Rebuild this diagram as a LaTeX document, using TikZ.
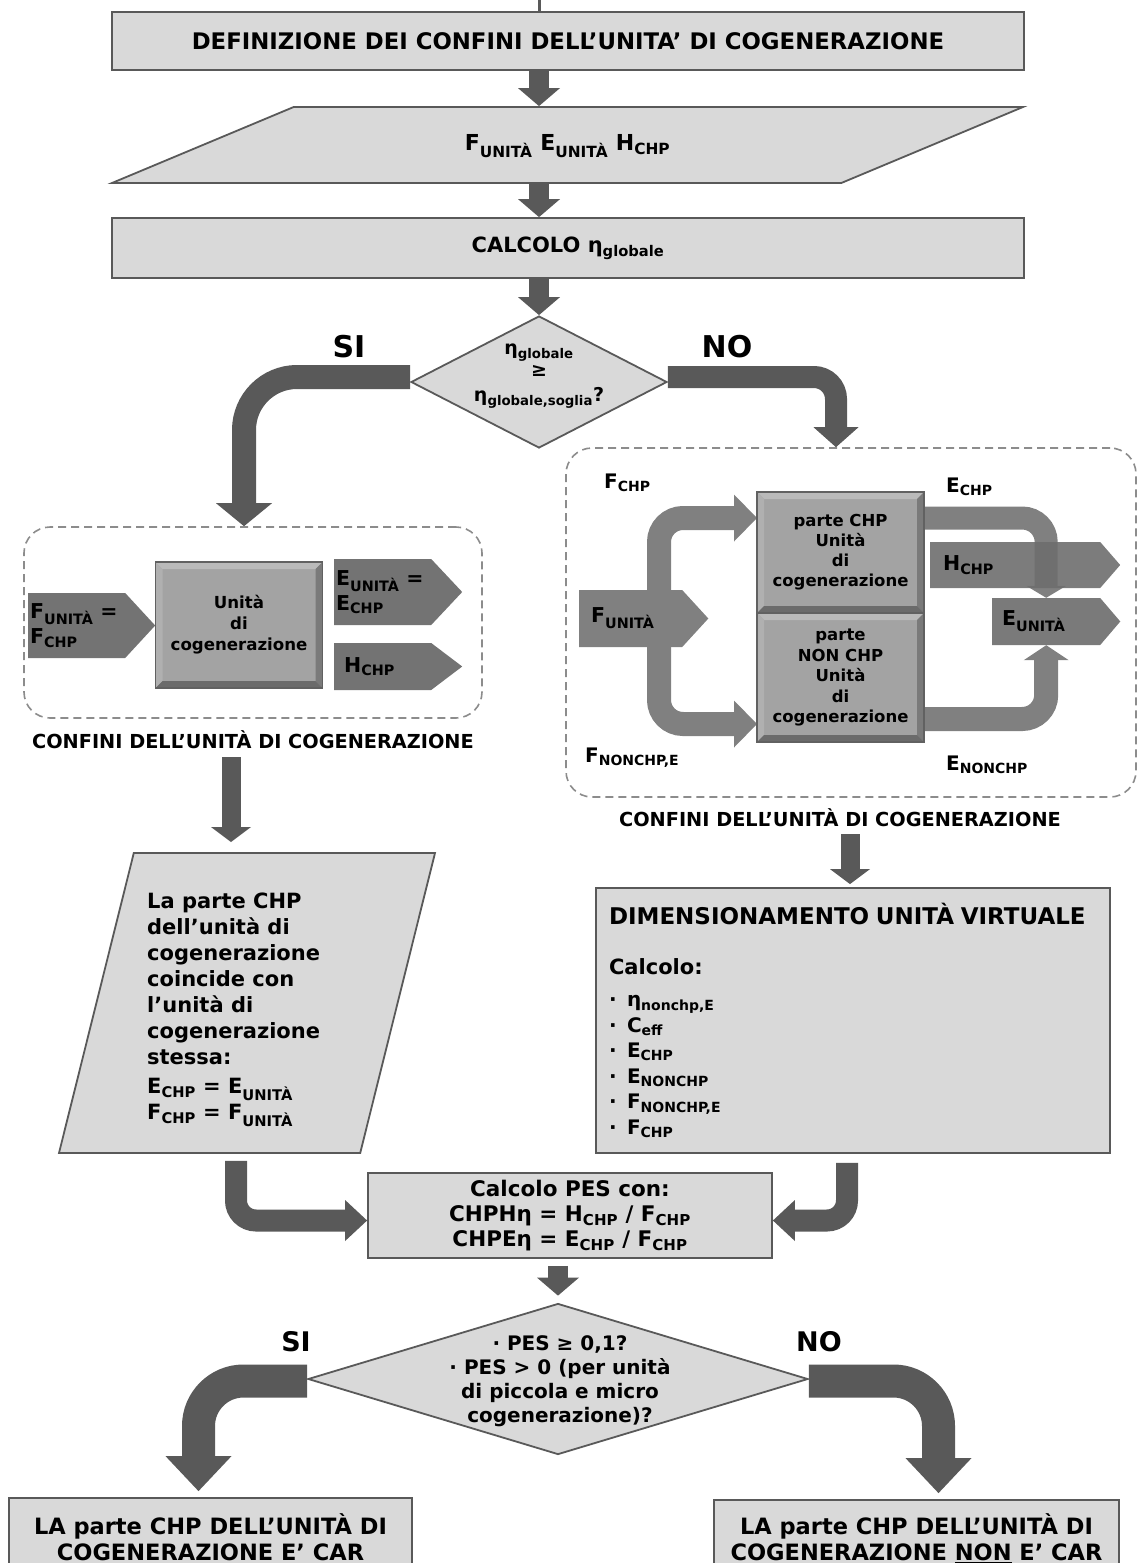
\documentclass[tikz,border=0pt]{standalone}
\usepackage{fontspec}
\setmainfont{DejaVu Sans}
\usepackage{tikz}
\usetikzlibrary{positioning,arrows.meta,shapes.geometric,shapes.symbols,backgrounds}
\newcommand{\fsz}[2]{\fontsize{#1}{#2}\selectfont\bfseries}
\newcommand{\subt}[1]{\textsubscript{#1}}

\begin{document}
\begin{tikzpicture}[x=1pt, y=-1pt,
  box/.style={draw=black!65, line width=1.8pt, fill=black!15, align=center},
  dia/.style={diamond, draw=black!65, line width=1.8pt, fill=black!15, inner sep=0pt},
  conf/.style={draw=black!45, line width=1.6pt, dash pattern=on 8pt off 5pt, rounded corners=26pt},
  bevel/.style={fill=black!36, draw=black!62, line width=1.2pt, outer sep=0pt, align=center,
    path picture={
      \path (path picture bounding box.north west) coordinate (pa) (path picture bounding box.north east) coordinate (pb)
            (path picture bounding box.south east) coordinate (pc) (path picture bounding box.south west) coordinate (pd);
      \fill[black!27] (pa) -- (pb) -- ([shift={(-7pt,-7pt)}]pb) -- ([shift={(7pt,-7pt)}]pa) -- cycle;
      \fill[black!31] (pa) -- (pd) -- ([shift={(7pt,7pt)}]pd) -- ([shift={(7pt,-7pt)}]pa) -- cycle;
      \fill[black!52] (pb) -- (pc) -- ([shift={(-7pt,7pt)}]pc) -- ([shift={(-7pt,-7pt)}]pb) -- cycle;
      \fill[black!58] (pd) -- (pc) -- ([shift={(-7pt,7pt)}]pc) -- ([shift={(7pt,7pt)}]pd) -- cycle;}},
  sig/.style={signal, signal to=east, fill=black!55, align=left, anchor=west, inner ysep=0pt, font=\fsz{20.5}{25}},
  lbl/.style={anchor=base west, inner sep=0pt, font=\fsz{20}{24}},
  yn/.style={font=\fsz{30}{32}},
  flow/.style={draw=black!65, line width=20pt, -{Triangle[width=42pt 0 1, length=18pt 0 1, line width=0pt]}},
  flowb/.style={draw=black!65, line width=19pt, -{Triangle[width=40pt 0 1, length=15pt 0 1, line width=0pt]}},
  turn/.style={draw=black!65, line width=22pt, rounded corners=20pt, -{Triangle[width=41pt 0 1, length=22pt 0 1, line width=0pt]}},
  bigl/.style={draw=black!65, line width=24pt, rounded corners=53pt, -{Triangle[width=56pt 0 1, length=23pt 0 1, line width=0pt]}},
  bigr/.style={draw=black!65, line width=22pt, rounded corners=22pt, -{Triangle[width=45pt 0 1, length=20pt 0 1, line width=0pt]}},
  huge/.style={draw=black!65, line width=33pt, rounded corners=45pt, -{Triangle[width=66pt 0 1, length=35pt 0 1, line width=0pt]}},
  band/.style={draw=black!50, line width=24pt, rounded corners=24pt}]
\useasboundingbox (0,0) rectangle (1137,1563);
\node[box, minimum width=912pt, minimum height=58pt, font=\fsz{22.8}{26}] (def) at (568,41) {DEFINIZIONE DEI CONFINI DELL’UNITA’ DI COGENERAZIONE};
\node[box, trapezium, trapezium left angle=22.7, trapezium right angle=157.3, trapezium stretches body,
      text height=15pt, text depth=5pt, inner ysep=28pt, minimum width=911pt, font=\fsz{22}{26}] (inp) at (567.5,145) {F\subt{UNITÀ} E\subt{UNITÀ} H\subt{CHP}};
\node[box, minimum width=912pt, minimum height=60pt, font=\fsz{21}{25}] (calc) at (568,248) {CALCOLO η\subt{globale}};
\node[dia, minimum width=256pt, minimum height=132pt] (dec1) at (539,382) {};
\node[align=center, font=\fsz{19}{22}] (q1) at (539,376) {η\subt{globale}\\≥\\[3pt]η\subt{globale,soglia}?};
\node[yn] (si1) at (349,347) {SI};
\node[yn] (no1) at (727,347) {NO};
\coordinate (in) at (539,0);

\node[conf, minimum width=458pt, minimum height=191pt] (bl) at (253,622.5) {};
\node[font=\fsz{19.3}{22}, below=8pt of bl] (cfl) {CONFINI DELL’UNITÀ DI COGENERAZIONE};
\node[sig, text width=93pt, minimum height=65pt, signal pointer angle=94.6, inner xsep=2pt] (fl) at (28,625.5) {F\subt{UNITÀ} =\\F\subt{CHP}};
\node[bevel, minimum width=167pt, minimum height=126pt, font=\fsz{16.6}{21}] (uc) at (239,625) {Unità\\di\\cogenerazione};
\node[sig, text width=93pt, minimum height=66pt, signal pointer angle=93.6, inner xsep=2pt] (el) at (334,592) {E\subt{UNITÀ} =\\E\subt{CHP}};
\node[sig, text width=77pt, minimum height=47pt, signal pointer angle=74.3, inner xsep=10pt] (hl) at (334,666.5) {H\subt{CHP}};

\node[conf, minimum width=570pt, minimum height=349pt] (br) at (851,622.5) {};
\node[font=\fsz{19.3}{22}, below=7pt of br, xshift=-11pt] (cfr) {CONFINI DELL’UNITÀ DI COGENERAZIONE};
\node[bevel, minimum width=167pt, minimum height=121pt, font=\fsz{16.5}{20}] (chp) at (840.5,552.5) {parte CHP\\Unità\\di\\cogenerazione};
\node[bevel, minimum width=167pt, minimum height=129pt, font=\fsz{16.5}{20.5}, below=0pt of chp] (nch) {parte\\NON CHP\\Unità\\di\\cogenerazione};
\node[sig, fill=black!50, text width=79pt, minimum height=57pt, signal pointer angle=95, inner xsep=12pt] (fu) at (579,618.5) {F\subt{UNITÀ}};
\node[sig, fill=black!57, fill opacity=0.9, text opacity=1, text width=144pt, minimum height=46pt, signal pointer angle=98, inner xsep=13pt] (hc) at (930,565) {H\subt{CHP}};
\node[sig, fill=black!52, text width=88pt, minimum height=47pt, signal pointer angle=99, inner xsep=10pt] (eu) at (992,621.5) {E\subt{UNITÀ}};
\node[lbl] (fchp) at (604,488) {F\subt{CHP}};
\node[lbl] (echp) at (946,492) {E\subt{CHP}};
\node[lbl] (fnon) at (585,762) {F\subt{NONCHP,E}};
\node[lbl] (enon) at (946,770) {E\subt{NONCHP}};
\coordinate (fk) at (659,618.5);

\node[box, trapezium, trapezium left angle=76, trapezium right angle=104, trapezium stretches body,
      inner sep=0pt, text height=300pt, text depth=0pt, minimum width=376pt] (lpar) at (247,1003) {};
\node[anchor=north west, inner sep=0pt, align=left, font=\fsz{21}{26}] (lpt) at (147,893)
      {La parte CHP\\dell’unità di\\cogenerazione\\coincide con\\l’unità di\\cogenerazione\\stessa:\\[3pt]E\subt{CHP} = E\subt{UNITÀ}\\F\subt{CHP} = F\subt{UNITÀ}};
\node[box, minimum width=514pt, minimum height=265pt, text width=488pt, align=left, font=\fsz{20}{25.6}] (dim) at (853,1020.5)
      {{\fsz{23}{26}DIMENSIONAMENTO UNITÀ VIRTUALE}\\[25pt]{\fsz{21}{26}Calcolo:}\\[6pt]
       \makebox[18pt][l]{·}η\subt{nonchp,E}\\\makebox[18pt][l]{·}C\subt{eff}\\\makebox[18pt][l]{·}E\subt{CHP}\\
       \makebox[18pt][l]{·}E\subt{NONCHP}\\\makebox[18pt][l]{·}F\subt{NONCHP,E}\\\makebox[18pt][l]{·}F\subt{CHP}};
\node[box, minimum width=404pt, minimum height=85pt, font=\fsz{21.5}{25}] (pes) at (570,1215.5)
      {Calcolo PES con:\\CHPHη = H\subt{CHP} / F\subt{CHP}\\CHPEη = E\subt{CHP} / F\subt{CHP}};
\node[dia, minimum width=500pt, minimum height=151pt] (dec2) at (558,1379) {};
\node[align=center, font=\fsz{20}{24}] (q2) at (560,1381) {· PES ≥ 0,1?\\· PES > 0 (per unità\\di piccola e micro\\cogenerazione)?};
\node[yn, font=\fsz{27}{30}] (si2) at (296,1342) {SI};
\node[yn, font=\fsz{27}{30}] (no2) at (819,1342) {NO};
\node[box, minimum width=403pt, minimum height=78pt, font=\fsz{22.5}{25.5}] (car) at (210.5,1537) {LA parte CHP DELL’UNITÀ DI\\COGENERAZIONE E’ CAR};
\node[box, minimum width=405pt, minimum height=76pt, font=\fsz{22.5}{25.5}] (ncar) at (916.5,1538) {LA parte CHP DELL’UNITÀ DI\\COGENERAZIONE \underline{NON} E’ CAR};

\begin{scope}[on background layer]
  \draw[black!65, line width=3pt] (in) -- (in |- def.north);
  \draw[flow] (def.south -| in) -- (inp.north -| in);
  \draw[flow] (inp.south -| in) -- (calc.north -| in);
  \draw[flow] (calc.south -| in) -- (dec1.north);
  \draw[bigl] ([yshift=5pt]dec1.west) -| ([xshift=-9pt]bl.north);
  \draw[bigr] ([yshift=5pt]dec1.east) -| ([xshift=-15pt]br.north);
  \draw[band, -{Triangle[width=47pt 0 1, length=23pt 0 1, line width=0pt]}] (fk) |- ([yshift=-26pt]chp.north west);
  \draw[band, -{Triangle[width=47pt 0 1, length=23pt 0 1, line width=0pt]}] (fk) |- ([yshift=18pt]nch.south west);
  \draw[band, line width=23pt, -{Triangle[width=40pt 0 1, length=12pt 0 1, line width=0pt]}] ([yshift=-26pt]chp.north east) -| (eu.north);
  \draw[band, -{Triangle[width=45pt 0 1, length=15pt 0 1, line width=0pt]}] ([yshift=23pt]nch.south east) -| (eu.south);
  \draw[flowb, shorten <=5pt, shorten >=10pt] ([xshift=-22pt]cfl.south) -- ([xshift=-22pt]cfl.south |- lpar.north);
  \draw[flowb, shorten <=4pt, shorten >=3pt] ([xshift=10pt]cfr.south) -- ([xshift=10pt]cfr.south |- dim.north);
  \draw[turn, shorten <=7pt] ([xshift=-11pt]lpar.south) |- ([yshift=-5pt]pes.west);
  \draw[turn, shorten <=9pt] ([xshift=-6pt]dim.south) |- ([yshift=-5pt]pes.east);
  \draw[flow, shorten <=7pt, shorten >=7pt] (pes.south -| dec2.north) -- (dec2.north);
  \draw[huge, shorten >=6pt] ([yshift=-2pt]dec2.west) -| ([xshift=-12pt]car.north);
  \draw[huge, shorten >=6pt] ([yshift=-2pt]dec2.east) -| ([xshift=22pt]ncar.north);
\end{scope}
\end{tikzpicture}
\end{document}
